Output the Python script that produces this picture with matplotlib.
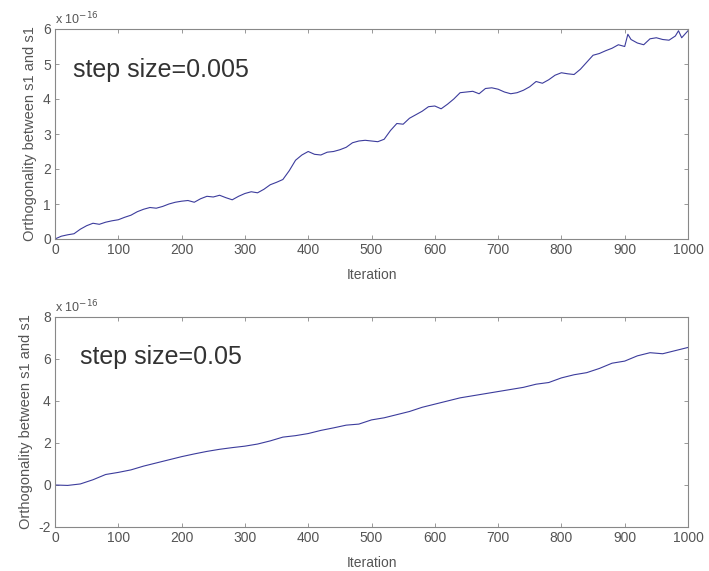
import numpy as np
import matplotlib.pyplot as plt

plt.rcParams['font.family'] = ['Liberation Sans', 'DejaVu Sans']
plt.rcParams['axes.unicode_minus'] = False

# values in units of 1e-16
it_a = [0, 10, 20, 30, 40, 50, 60, 70, 80, 90, 100, 110, 120, 130, 140, 150, 160, 170, 180, 190,
        200, 210, 220, 230, 240, 250, 260, 270, 280, 290, 300, 310, 320, 330, 340, 350, 360, 370, 380, 390,
        400, 410, 420, 430, 440, 450, 460, 470, 480, 490, 500, 510, 520, 530, 540, 550, 560, 570, 580, 590,
        600, 610, 620, 630, 640, 650, 660, 670, 680, 690, 700, 710, 720, 730, 740, 750, 760, 770, 780, 790,
        800, 810, 820, 830, 840, 850, 860, 870, 880, 890, 900, 905, 910, 920, 930, 940, 950, 960, 970, 980,
        985, 990, 1000]
val_a = [0.0, 0.08, 0.12, 0.15, 0.28, 0.38, 0.45, 0.42, 0.48, 0.52, 0.55, 0.62, 0.68, 0.78, 0.85, 0.9, 0.88, 0.93, 1.0, 1.05,
         1.08, 1.1, 1.05, 1.15, 1.22, 1.2, 1.25, 1.18, 1.12, 1.22, 1.3, 1.35, 1.32, 1.42, 1.55, 1.62, 1.7, 1.95, 2.25, 2.4,
         2.5, 2.42, 2.4, 2.48, 2.5, 2.55, 2.62, 2.75, 2.8, 2.82, 2.8, 2.78, 2.85, 3.1, 3.3, 3.28, 3.45, 3.55, 3.65, 3.78,
         3.8, 3.72, 3.85, 4.0, 4.18, 4.2, 4.22, 4.15, 4.3, 4.32, 4.28, 4.2, 4.15, 4.18, 4.25, 4.35, 4.5, 4.45, 4.55, 4.68,
         4.75, 4.72, 4.7, 4.85, 5.05, 5.25, 5.3, 5.38, 5.45, 5.55, 5.5, 5.85, 5.7, 5.6, 5.55, 5.72, 5.75, 5.7, 5.68, 5.8,
         5.95, 5.75, 5.95]

it_b = [0, 20, 40, 60, 80, 100, 120, 140, 160, 180, 200, 220, 240, 260, 280, 300, 320, 340, 360, 380,
        400, 420, 440, 460, 480, 500, 520, 540, 560, 580, 600, 620, 640, 660, 680, 700, 720, 740, 760, 780,
        800, 820, 840, 860, 880, 900, 920, 940, 960, 980, 1000]
val_b = [0.0, -0.02, 0.05, 0.25, 0.5, 0.6, 0.72, 0.9, 1.05, 1.2, 1.35, 1.48, 1.6, 1.7, 1.78, 1.85, 1.95, 2.1, 2.28, 2.35,
         2.45, 2.6, 2.72, 2.85, 2.9, 3.1, 3.2, 3.35, 3.5, 3.7, 3.85, 4.0, 4.15, 4.25, 4.35, 4.45, 4.55, 4.65, 4.8, 4.88,
         5.1, 5.25, 5.35, 5.55, 5.8, 5.9, 6.15, 6.3, 6.25, 6.4, 6.55]

fig = plt.figure(figsize=(7.09, 5.71), dpi=100)
W, H = 709, 571
ax1 = fig.add_axes([55 / W, 1 - 239 / H, 633 / W, 210 / H])
ax2 = fig.add_axes([55 / W, 1 - 527 / H, 633 / W, 210 / H])

gray = '#555555'
for ax, x, y, ylim, yt, label, tx, ty in [
        (ax1, it_a, val_a, (0, 6), np.arange(0, 7, 1), 'step size=0.005', 28, 4.83),
        (ax2, it_b, val_b, (-2, 8), np.arange(-2, 9, 2), 'step size=0.05', 40, 6.1)]:
    ax.plot(x, y, color='#3c3c9c', lw=0.8)
    ax.set_xlim(0, 1000)
    ax.set_ylim(*ylim)
    ax.set_xticks(np.arange(0, 1001, 100))
    ax.set_yticks(yt)
    ax.tick_params(direction='in', top=True, right=True, length=3, width=0.6,
                   labelsize=10, colors='#888888', labelcolor=gray, pad=3)
    for s in ax.spines.values():
        s.set_color('#888888')
        s.set_linewidth(0.8)
    ax.set_xlabel('Iteration', fontsize=10, color=gray, labelpad=8)
    ax.set_ylabel('Orthogonality between s1 and s1', fontsize=10.5, color=gray, labelpad=4)
    ax.text(tx, ty, label, fontsize=18, color='#333333', va='center')
    ax.text(0.0, 1.01, r'x 10$^{-16}$', transform=ax.transAxes, fontsize=9, color=gray,
            va='bottom', ha='left')

fig.savefig('out.png', dpi=100)
